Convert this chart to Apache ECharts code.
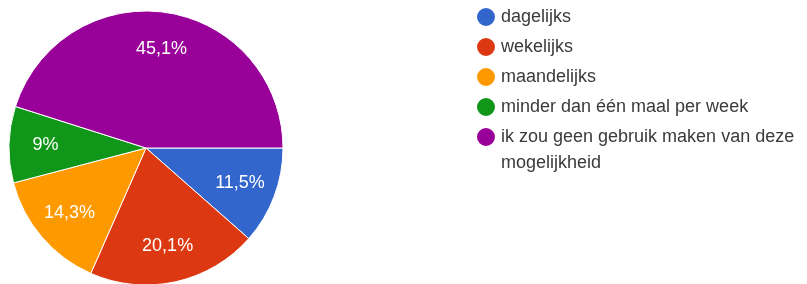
<!DOCTYPE html>
<html>
<head>
<meta charset="utf-8">
<script src="https://cdn.jsdelivr.net/npm/echarts@6/dist/echarts.min.js"></script>
<style>
  html, body { margin: 0; padding: 0; background: #fff; }
  #chart { width: 807px; height: 284px; }
</style>
</head>
<body>
<div id="chart"></div>
<script>
// antwoorden (percentages)
const categories = [
  'dagelijks',
  'wekelijks',
  'maandelijks',
  'minder dan één maal per week',
  'ik zou geen gebruik maken van deze mogelijkheid'
];
const percentages = [11.5, 20.1, 14.3, 9, 45.1];
const colors = ['#3366cc', '#dc3912', '#ff9900', '#109618', '#990099'];

const pieData = categories.map((name, i) => ({
  name: name,
  value: percentages[i],
  itemStyle: { color: colors[i] }
}));

const legendText = {
  fontFamily: 'Liberation Sans, Arial, sans-serif',
  fontSize: 18,
  color: '#3a3a3a',
  lineHeight: 26,
  width: 300,
  overflow: 'break'
};
const legendBase = {
  orient: 'vertical',
  left: 475,
  padding: 0,
  icon: 'circle',
  itemWidth: 20,
  itemHeight: 20,
  itemGap: 4,
  selectedMode: false,
  textStyle: legendText
};

const chart = echarts.init(document.getElementById('chart'));

chart.setOption({
  animation: false,
  legend: [
    Object.assign({}, legendBase, {
      top: 4,
      data: categories.slice(0, 4)
    }),
    // laatste item loopt over twee regels; lege regel ervoor zodat de
    // eerste tekstregel naast het bolletje staat
    Object.assign({}, legendBase, {
      top: 98,
      data: [categories[4]],
      formatter: name => '\n' + name
    })
  ],
  series: [
    {
      // de taart zelf
      type: 'pie',
      center: [146, 148],
      radius: [0, 137],
      startAngle: 0,
      clockwise: true,
      silent: true,
      label: { show: false },
      labelLine: { show: false },
      itemStyle: { borderColor: '#fff', borderWidth: 1 },
      data: pieData
    },
    {
      // alleen voor de labels
      type: 'pie',
      center: [146, 148],
      radius: [58, 137],
      startAngle: 0,
      clockwise: true,
      silent: true,
      itemStyle: { color: 'rgba(0,0,0,0)', borderWidth: 0 },
      label: {
        show: true,
        position: 'inside',
        color: '#fff',
        fontFamily: 'Liberation Sans, Arial, sans-serif',
        fontSize: 18,
        formatter: p => String(p.value).replace('.', ',') + '%'
      },
      labelLine: { show: false },
      data: categories.map((name, i) => ({ name: name, value: percentages[i] }))
    }
  ]
});
</script>
</body>
</html>
